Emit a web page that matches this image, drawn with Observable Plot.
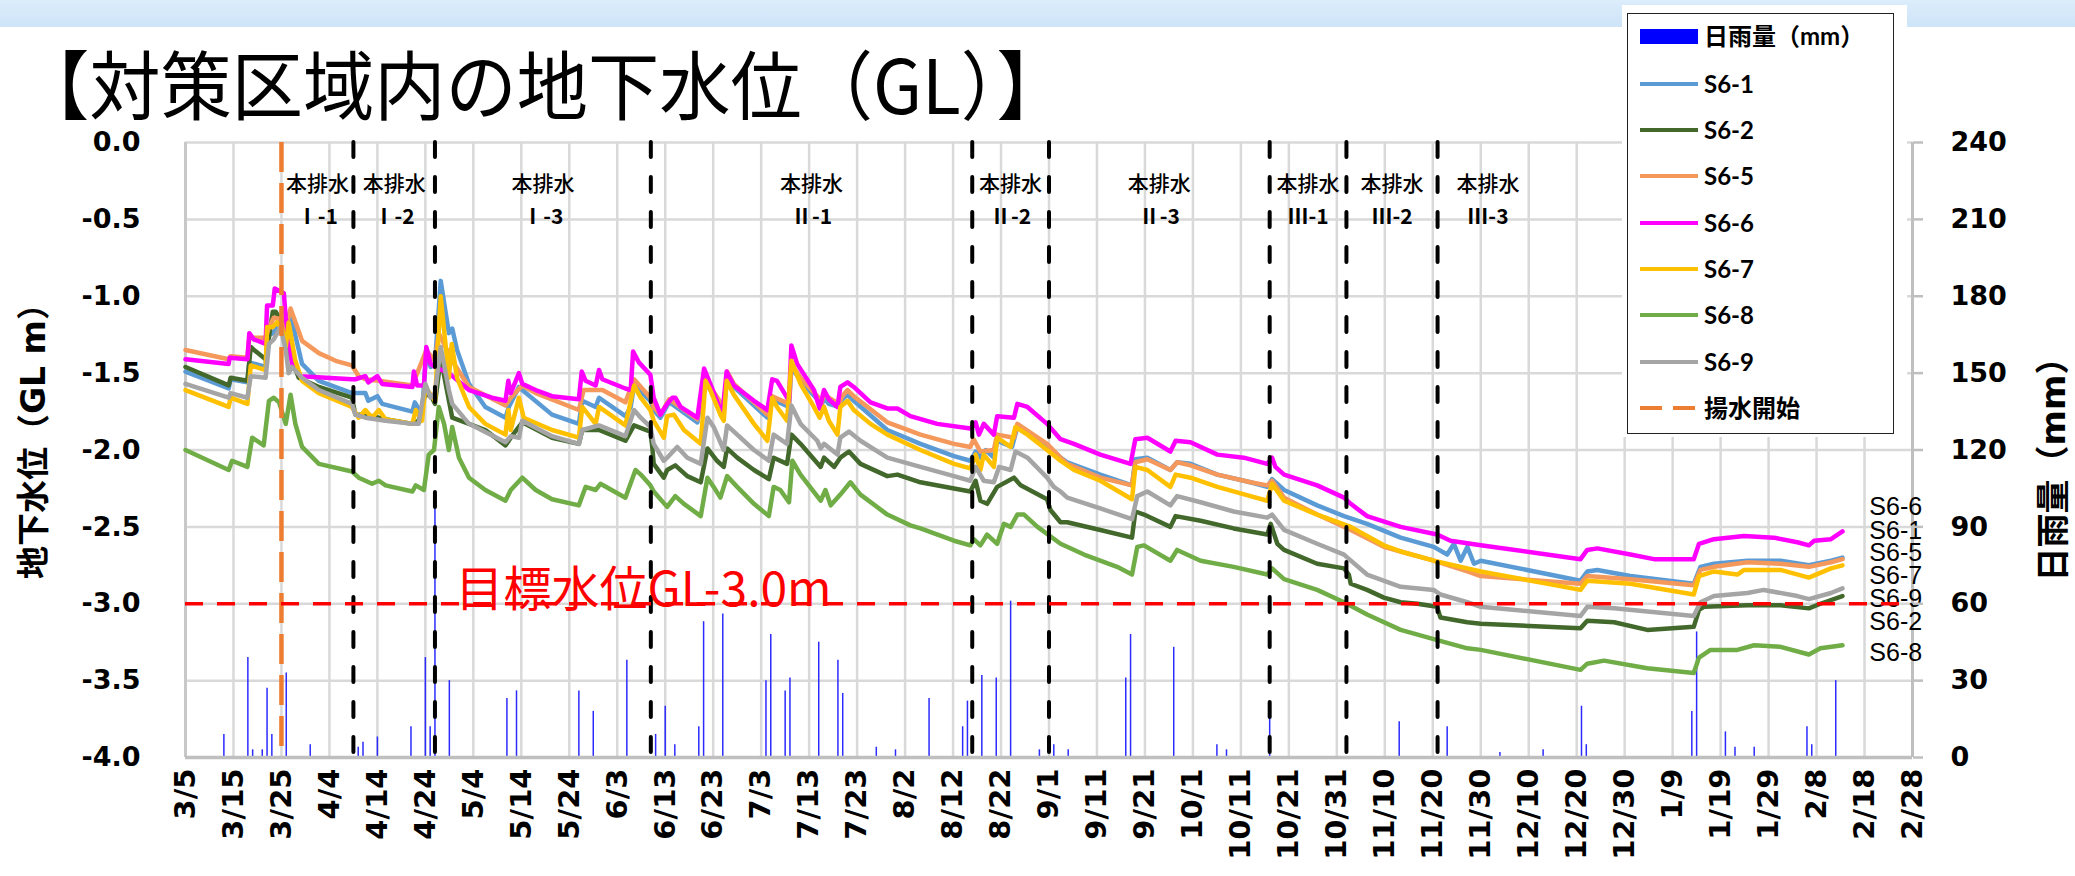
<!DOCTYPE html>
<html><head><meta charset="utf-8">
<script src="https://cdn.jsdelivr.net/npm/d3@7"></script>
<script src="https://cdn.jsdelivr.net/npm/@observablehq/plot@0.6"></script>
<style>
html,body{margin:0;padding:0;background:#fff;overflow:hidden;}
#wrap{position:relative;width:2075px;height:876px;overflow:hidden;background:#fff;}
#band{position:absolute;left:0;top:0;width:2075px;height:27px;background:linear-gradient(#dcedfb,#cde4f8);}
#chart{position:absolute;left:0;top:0;}
#title{position:absolute;left:18px;top:44px;font-family:"Noto Sans CJK JP";font-size:75px;font-weight:400;line-height:1;white-space:nowrap;transform:scaleX(0.95);transform-origin:0 0;}
.axlab{position:absolute;white-space:nowrap;font-family:"DejaVu Sans","Noto Sans CJK JP";font-weight:700;line-height:1;transform:translate(-50%,-50%) rotate(-90deg);}
#legendBack{position:absolute;left:1622px;top:5px;width:285px;height:432px;background:#fff;}
#legend{position:absolute;left:1627px;top:13px;width:267px;height:421px;border:1.5px solid #222;background:#fff;box-sizing:border-box;}
.row{position:absolute;left:0;height:30px;width:100%;}
.row svg{position:absolute;left:11px;top:0;}
.row span{position:absolute;left:76px;top:0;line-height:30px;font-family:Lato,"Noto Sans CJK JP";font-weight:700;font-size:24px;white-space:nowrap;}
</style>
</head><body>
<div id="wrap">
  <div id="band"></div>
  <div id="chart"></div>
  <div id="title">【対策区域内の地下水位（GL）】</div>
  <div class="axlab" id="ylabL" style="left:33px;top:433px;font-size:33px;">地下水位（GL m）</div>
  <div class="axlab" id="ylabR" style="left:2053px;top:461px;font-size:34px;">日雨量（mm）</div>
  <div id="legendBack"></div>
  <div id="legend"></div>
</div>
<script>
// ---- x tick labels (every 10 days from 3/5) ----
const dateLabels = ["3/5","3/15","3/25","4/4","4/14","4/24","5/4","5/14","5/24","6/3","6/13","6/23","7/3","7/13","7/23","8/2","8/12","8/22","9/1","9/11","9/21","10/1","10/11","10/21","10/31","11/10","11/20","11/30","12/10","12/20","12/30","1/9","1/19","1/29","2/8","2/18","2/28"];
const yTicks = [-4,-3.5,-3,-2.5,-2,-1.5,-1,-0.5,0];
const rainTicks = [0,30,60,90,120,150,180,210,240];

// ---- groundwater level series: [day since 3/5, GL m] ----
const s6_1 = [[0,-1.49],[9,-1.60],[9.4,-1.54],[12.9,-1.56],[13.3,-1.43],[16.7,-1.46],[17,-1.26],[18.2,-1.24],[21.8,-1.11],[24.3,-1.44],[27.8,-1.55],[34.7,-1.63],[37.5,-1.63],[38.1,-1.68],[40,-1.65],[41,-1.70],[47.3,-1.75],[47.8,-1.69],[49.3,-1.77],[50.2,-1.35],[51.1,-1.46],[52,-1.44],[53.2,-0.90],[54.9,-1.24],[55.6,-1.21],[56.6,-1.35],[59.1,-1.57],[62.5,-1.72],[66.7,-1.79],[67.4,-1.72],[69.5,-1.59],[70.2,-1.61],[76.4,-1.77],[82,-1.83],[82.7,-1.68],[85.5,-1.72],[86.2,-1.66],[91.7,-1.78],
[92.8,-1.72],[93.5,-1.58],[96.9,-1.68],[97.6,-1.74],[99,-1.79],[100.8,-1.69],[101.8,-1.71],[106.7,-1.82],[108.1,-1.55],[112.2,-1.74],[112.9,-1.52],[114.3,-1.59],[121.3,-1.79],[122.3,-1.67],[125.8,-1.72],[126.3,-1.46],[128.2,-1.55],[132,-1.68],[132.4,-1.73],[133.1,-1.66],[134.1,-1.70],[136.2,-1.72],[136.9,-1.67],[138,-1.64],[139.3,-1.68],[146.3,-1.87],[153.2,-1.96],[160.2,-2.04],[163.6,-2.07],[164.7,-2.01],[165.7,-2.05],[166.8,-2.00],[168.5,-2.05],[169.2,-1.94],[172.3,-1.98],[173.4,-1.85],[179.6,-1.97],[182.4,-2.05],
[183.8,-2.08],[190.7,-2.16],[197.3,-2.23],[198,-2.06],[200.5,-2.05],[205.3,-2.13],[206.7,-2.08],[209.5,-2.09],[215.1,-2.16],[222,-2.21],[225.5,-2.24],[226.5,-2.19],[229,-2.26],[235.9,-2.36],[241.5,-2.43],[246.3,-2.48],[253.3,-2.57],[260.2,-2.63],[263,-2.68],[264.4,-2.61],[265.8,-2.72],[267.2,-2.63],[268.6,-2.74],[270,-2.72],[290.8,-2.85],[292.2,-2.79],[294.3,-2.78],[301.2,-2.82],[314.4,-2.87],[315.8,-2.76],[318.6,-2.74],[325.6,-2.72],[332.5,-2.72],[338.4,-2.75],[343,-2.72],[345.4,-2.70]];

const s6_2 = [[0,-1.46],[9,-1.58],[9.4,-1.53],[12.9,-1.55],[13.6,-1.33],[14.3,-1.35],[16.7,-1.41],[18.2,-1.10],[18.8,-1.10],[20.2,-1.18],[20.9,-1.31],[23.6,-1.53],[27.8,-1.59],[34.7,-1.66],[35.4,-1.77],[37.5,-1.77],[41.7,-1.80],[47.3,-1.83],[48.6,-1.81],[50,-1.63],[51.4,-1.66],[52,-1.70],[53.2,-1.40],[55.6,-1.79],[62.5,-1.87],[66.7,-1.97],[67.8,-1.92],[70.2,-1.82],[76.4,-1.92],[82,-1.96],[82.7,-1.87],[86.2,-1.87],[91.7,-1.94],
[93.5,-1.84],[96.9,-1.88],[97.3,-1.98],[97.6,-2.09],[99.7,-2.18],[100.4,-2.13],[102.1,-2.10],[104.6,-2.17],[107.4,-2.21],[108.8,-1.99],[110.8,-2.07],[112.2,-2.11],[112.9,-1.99],[115,-2.05],[118.5,-2.13],[121.6,-2.19],[122.6,-2.05],[125.4,-2.09],[126.3,-1.90],[128.2,-1.96],[132.4,-2.11],[133.1,-2.05],[135.2,-2.11],[136.5,-2.05],[138.3,-2.01],[140.7,-2.09],[146.3,-2.17],[148.4,-2.16],[153.2,-2.21],[160.2,-2.25],[163.6,-2.27],[164.7,-2.20],[165.7,-2.33],[167.1,-2.35],[169.2,-2.24],[172.7,-2.18],[174.1,-2.23],[179.6,-2.32],[180.3,-2.39],[182.4,-2.47],
[183.8,-2.47],[190.7,-2.52],[197.3,-2.57],[198,-2.40],[199.8,-2.42],[205.3,-2.50],[206.4,-2.43],[211.6,-2.46],[218.5,-2.51],[225.5,-2.55],[226.2,-2.48],[227.6,-2.61],[229,-2.65],[235.9,-2.74],[241.5,-2.77],[242.5,-2.81],[242.9,-2.87],[246.3,-2.91],[249.8,-2.96],[253.3,-2.99],[256.8,-3.00],[260.9,-3.02],[261.6,-3.09],[267.2,-3.12],[270,-3.13],[290.8,-3.16],[292.2,-3.11],[297.8,-3.12],[304.7,-3.17],[314.4,-3.15],[315.5,-3.04],[316.5,-3.02],[325.6,-3.01],[332.5,-3.01],[338.4,-3.03],[340.8,-3.00],[345.4,-2.95]];

const s6_5 = [[0,-1.35],[9,-1.41],[9.4,-1.39],[12.9,-1.40],[13.3,-1.27],[16.7,-1.27],[17.4,-1.20],[18.4,-1.14],[20.2,-1.15],[20.9,-1.21],[21.9,-1.08],[24.3,-1.29],[27.8,-1.37],[31.3,-1.42],[34.7,-1.45],[36.1,-1.52],[37.5,-1.54],[40.3,-1.55],[47.3,-1.58],[50.2,-1.35],[52,-1.42],[52.8,-1.24],[55.6,-1.42],[59.1,-1.59],[66.7,-1.71],[67.8,-1.66],[70.2,-1.58],[73,-1.63],[82,-1.74],[83,-1.61],[86.9,-1.61],[91.7,-1.69],
[93.5,-1.54],[96.9,-1.66],[97.6,-1.72],[99,-1.77],[100.8,-1.67],[106.7,-1.80],[108.1,-1.53],[112.2,-1.72],[112.9,-1.49],[114.3,-1.57],[121.3,-1.77],[122.3,-1.65],[125.8,-1.70],[126.3,-1.44],[128.2,-1.53],[132,-1.66],[132.4,-1.71],[133.1,-1.64],[136.2,-1.70],[136.9,-1.65],[138,-1.61],[139.3,-1.65],[146.3,-1.82],[153.2,-1.90],[160.2,-1.96],[163.6,-1.98],[164.3,-1.93],[165.7,-2.01],[168.5,-2.00],[169.2,-1.90],[172.7,-1.92],[173.4,-1.83],[179.6,-1.96],[182.4,-2.05],
[183.8,-2.09],[190.7,-2.18],[197.3,-2.23],[198,-2.08],[200.5,-2.06],[205.3,-2.13],[206.7,-2.08],[209.5,-2.10],[215.1,-2.16],[222,-2.21],[225.5,-2.23],[226.5,-2.20],[229,-2.31],[235.9,-2.42],[242.9,-2.52],[249.8,-2.63],[253.3,-2.66],[260.2,-2.72],[267.2,-2.79],[270,-2.82],[290.8,-2.87],[292.2,-2.82],[301.2,-2.84],[314.4,-2.88],[315.8,-2.78],[318.6,-2.76],[325.6,-2.73],[332.5,-2.74],[338.4,-2.76],[343,-2.73],[345.4,-2.71]];

const s6_6 = [[0,-1.41],[9,-1.44],[9.2,-1.40],[12.9,-1.41],[13.3,-1.24],[14.2,-1.28],[16.7,-1.31],[17,-1.06],[18.2,-1.06],[18.6,-0.95],[20.5,-0.98],[20.9,-1.14],[22.2,-1.44],[24,-1.52],[34.7,-1.54],[35.4,-1.54],[37.5,-1.52],[38.1,-1.56],[40,-1.52],[41,-1.57],[47.3,-1.59],[47.6,-1.49],[48.3,-1.58],[49.7,-1.58],[50.2,-1.33],[51.1,-1.44],[52,-1.46],[54.9,-1.50],[59.1,-1.61],[63.9,-1.66],[66.7,-1.68],[67.3,-1.55],[67.8,-1.63],[69.5,-1.50],[70.2,-1.57],[73,-1.61],[76.4,-1.65],[82,-1.67],[82.6,-1.49],[83.4,-1.55],[85.5,-1.58],[86.2,-1.48],[86.9,-1.54],[91.7,-1.60],
[92.8,-1.61],[93.3,-1.36],[94.5,-1.43],[96.9,-1.51],[97.6,-1.66],[99,-1.77],[100.4,-1.70],[101.5,-1.66],[102.1,-1.66],[103.2,-1.72],[106.7,-1.79],[108.1,-1.47],[109.4,-1.57],[111.9,-1.77],[112.8,-1.49],[114.3,-1.58],[118.5,-1.68],[121.3,-1.74],[122.3,-1.54],[123.3,-1.55],[125.8,-1.68],[126.3,-1.32],[127.5,-1.44],[131,-1.61],[132.2,-1.73],[133.1,-1.61],[134.1,-1.67],[135.9,-1.72],[136.5,-1.59],[138,-1.56],[139.3,-1.59],[142.8,-1.69],[146.3,-1.73],[148.4,-1.73],[151.1,-1.78],[156.7,-1.83],[163.6,-1.86],[164.7,-1.82],[165.4,-1.90],[166.4,-1.83],[168.5,-1.90],[169.2,-1.78],[172.7,-1.79],[173.4,-1.70],[175.5,-1.72],[179.6,-1.83],[182.4,-1.93],
[185.2,-1.96],[190.7,-2.03],[197,-2.09],[198,-1.93],[200.5,-1.92],[205.3,-2.01],[206.4,-1.94],[209.5,-1.95],[215.1,-2.03],[220.6,-2.05],[225.5,-2.09],[226.5,-2.05],[227.2,-2.11],[229,-2.16],[235.9,-2.23],[241.5,-2.31],[242.9,-2.35],[246.3,-2.43],[253.3,-2.50],[260.9,-2.55],[263.7,-2.59],[270,-2.62],[290.8,-2.71],[292.2,-2.65],[294.3,-2.64],[301.2,-2.68],[306.1,-2.71],[314.4,-2.71],[315.5,-2.61],[318.6,-2.58],[324.9,-2.56],[331.1,-2.57],[336,-2.60],[338.4,-2.62],[339.5,-2.59],[343,-2.58],[345.4,-2.53]];

const s6_7 = [[0,-1.61],[9,-1.72],[9.4,-1.66],[12.9,-1.70],[13.6,-1.45],[16.7,-1.48],[17,-1.20],[18.2,-1.20],[19.1,-1.17],[20.2,-1.22],[20.9,-1.33],[21.5,-1.17],[22.9,-1.42],[24.3,-1.55],[27.8,-1.63],[34.7,-1.72],[36.1,-1.79],[37.5,-1.74],[38.9,-1.79],[40.3,-1.74],[41.7,-1.80],[47.3,-1.83],[48,-1.74],[49.3,-1.81],[50,-1.59],[52,-1.68],[53.2,-1.00],[54.9,-1.53],[55.5,-1.31],[56.6,-1.53],[59.1,-1.72],[62.5,-1.83],[66.7,-1.90],[67.3,-1.74],[67.8,-1.87],[69.5,-1.66],[70.5,-1.79],[76.4,-1.87],[82,-1.92],[82.7,-1.72],[85.5,-1.83],[86.2,-1.72],[91.7,-1.84],
[93.5,-1.58],[94.9,-1.66],[96.9,-1.74],[97.6,-1.81],[99.7,-1.92],[100.4,-1.78],[101.8,-1.77],[103.9,-1.87],[107.4,-1.96],[108.4,-1.55],[109.4,-1.61],[111.5,-1.77],[112.2,-1.81],[112.8,-1.55],[114.3,-1.64],[118.5,-1.83],[121.3,-1.94],[122.3,-1.66],[123.3,-1.72],[125.4,-1.81],[126.3,-1.42],[128.2,-1.57],[131,-1.72],[132.2,-1.79],[133.1,-1.72],[134.1,-1.81],[135.9,-1.90],[136.5,-1.72],[138,-1.68],[139.3,-1.74],[142.8,-1.83],[146.3,-1.90],[153.2,-2.00],[160.2,-2.09],[163.6,-2.12],[164.7,-2.03],[165.7,-2.13],[166.4,-2.03],[168.5,-2.11],[169.2,-1.92],[172,-1.98],[173,-1.85],[175.5,-1.90],[179.6,-2.00],[182.4,-2.07],
[185.2,-2.13],[190.7,-2.20],[197.3,-2.32],[198,-2.11],[200.5,-2.13],[205.3,-2.24],[206.4,-2.16],[209.5,-2.18],[215.1,-2.24],[222,-2.30],[225.5,-2.33],[226.5,-2.22],[229,-2.33],[235.9,-2.42],[242.9,-2.50],[249.8,-2.62],[253.3,-2.66],[260.2,-2.72],[267.2,-2.77],[270,-2.79],[290.8,-2.91],[292.2,-2.85],[301.2,-2.87],[314.4,-2.94],[315.5,-2.82],[318.6,-2.79],[323.5,-2.81],[324.9,-2.78],[332.5,-2.78],[338.4,-2.83],[343,-2.77],[345.4,-2.75]];

const s6_8 = [[0,-2.00],[9,-2.13],[9.7,-2.07],[12.9,-2.11],[13.9,-1.92],[16.3,-1.97],[17.4,-1.68],[18.4,-1.66],[19.5,-1.69],[20.9,-1.83],[21.9,-1.64],[22.9,-1.83],[24.3,-1.98],[27.8,-2.09],[34.7,-2.14],[36.1,-2.18],[38.9,-2.22],[40.3,-2.20],[41.7,-2.23],[47.3,-2.27],[48,-2.23],[49.7,-2.26],[50.7,-2.03],[51.8,-2.00],[52.8,-1.72],[53.9,-1.83],[54.9,-2.00],[55.6,-1.85],[57,-2.05],[59.1,-2.18],[62.5,-2.26],[66.7,-2.33],[67.8,-2.26],[70.2,-2.18],[73,-2.26],[76.4,-2.32],[82,-2.36],[83.4,-2.24],[85.5,-2.26],[86.5,-2.22],[91.7,-2.31],
[93.8,-2.13],[94.9,-2.16],[96.9,-2.23],[97.6,-2.27],[100.4,-2.37],[102.1,-2.30],[103.9,-2.35],[107.4,-2.43],[108.8,-2.18],[110.1,-2.24],[111.5,-2.31],[112.9,-2.17],[115,-2.24],[118.5,-2.35],[121.6,-2.43],[122.6,-2.24],[124,-2.26],[125.8,-2.34],[126.5,-2.07],[128.2,-2.16],[132.4,-2.33],[133.4,-2.26],[134.5,-2.36],[136.5,-2.29],[138.6,-2.21],[140.7,-2.29],[146.3,-2.42],[151.1,-2.49],[153.2,-2.51],[160.2,-2.59],[163.6,-2.62],[164.3,-2.58],[165.7,-2.62],[167.1,-2.55],[169.2,-2.61],[170.6,-2.48],[172,-2.50],[173.4,-2.42],[174.8,-2.42],[177.6,-2.50],[182.4,-2.61],
[187.3,-2.68],[194.2,-2.76],[197.3,-2.81],[198.4,-2.63],[199.8,-2.62],[205.3,-2.72],[206.7,-2.65],[211.6,-2.72],[218.5,-2.76],[225.5,-2.81],[226.5,-2.77],[229,-2.84],[235.9,-2.91],[241.5,-2.99],[246.3,-3.07],[253.3,-3.17],[260.2,-3.23],[267.2,-3.29],[270,-3.30],[290.8,-3.43],[292.2,-3.39],[295.7,-3.37],[304.7,-3.42],[314.4,-3.45],[315.5,-3.35],[317.9,-3.30],[323.5,-3.30],[327,-3.27],[332.5,-3.28],[338.4,-3.33],[340.8,-3.29],[345.4,-3.27]];

const s6_9 = [[0,-1.57],[9,-1.66],[9.4,-1.63],[12.9,-1.66],[13.6,-1.52],[16.7,-1.53],[17.4,-1.31],[18.4,-1.28],[19.8,-1.20],[20.9,-1.35],[21.5,-1.50],[22.2,-1.46],[24.3,-1.53],[27.8,-1.61],[34.7,-1.70],[35.4,-1.77],[37.5,-1.79],[41.7,-1.81],[47.3,-1.83],[48.6,-1.83],[50,-1.57],[51.1,-1.66],[52,-1.63],[53.2,-1.33],[54.9,-1.61],[55.6,-1.70],[59.1,-1.83],[66.7,-1.95],[67.8,-1.91],[69.5,-1.92],[70.2,-1.81],[76.4,-1.91],[82,-1.96],[82.7,-1.87],[86.2,-1.84],[91.7,-1.91],
[93.5,-1.74],[94.9,-1.79],[96.9,-1.85],[97.6,-1.96],[99.7,-2.07],[100.4,-2.05],[102.5,-1.98],[104.6,-2.05],[107.4,-2.09],[108.8,-1.79],[110.1,-1.85],[112.2,-2.00],[112.9,-1.84],[115,-1.90],[118.5,-2.00],[121.6,-2.07],[122.6,-1.90],[125.4,-1.96],[126.3,-1.71],[128.2,-1.83],[131.7,-1.94],[132.4,-1.99],[133.1,-1.96],[135.9,-2.03],[136.5,-1.92],[138.3,-1.88],[140.7,-1.94],[146.3,-2.05],[153.2,-2.11],[160.2,-2.17],[163.6,-2.20],[164.7,-2.11],[166.4,-2.20],[168.5,-2.21],[169.6,-2.11],[172,-2.13],[173,-2.01],[175.5,-2.05],[179.6,-2.18],[181,-2.24],[182.4,-2.27],
[183.8,-2.31],[190.7,-2.38],[197.3,-2.45],[198.4,-2.30],[200.5,-2.27],[205.3,-2.36],[206.7,-2.30],[211.6,-2.34],[218.5,-2.40],[225.5,-2.44],[226.5,-2.42],[229,-2.52],[235.9,-2.61],[241.5,-2.68],[242.2,-2.70],[246.3,-2.81],[253.3,-2.89],[260.2,-2.91],[261.6,-2.94],[267.2,-2.99],[270,-3.02],[290.8,-3.08],[292.2,-3.02],[297.8,-3.03],[314.4,-3.08],[315.8,-2.99],[318.6,-2.95],[325.6,-2.93],[329,-2.91],[336,-2.95],[338.4,-2.97],[343,-2.93],[345.4,-2.90]];

// ---- daily rainfall (mm) ----
const rainDays = [8,13,14,16,17,18,21,26,36,37,40,47,50,51,52,55,67,69,82,85,92,98,100,102,107,108,112,121,122,125,126,132,136,137,144,148,155,162,163,166,169,172,178,181,184,196,197,206,215,217,226,253,263,274,283,291,292,314,315,321,323,327,338,339,344];
const rainMm   = [9,39,3,3,27,9,33,5,4,6,8,12,39,12,101,30,23,26,26,18,38,9,20,5,12,53,56,30,48,26,31,45,38,25,4,3,23,12,22,32,31,61,3,5,3,31,48,43,5,3,20,14,12,2,3,20,5,18,49,10,4,4,12,5,30];

// ---- annotations ----
const pumpStartDay = 20;
const periodBounds = [20,35,52,97,164,180,226,242,261,282];
const periodNames = ["Ⅰ-1","Ⅰ-2","Ⅰ-3","Ⅱ-1","Ⅱ-2","Ⅱ-3","Ⅲ-1","Ⅲ-2","Ⅲ-3"];
const targetLevel = -3.0;
const targetText = "目標水位GL-3.0m";
const targetTextDay = 56.3;
const endLabels = ["S6-6","S6-1","S6-5","S6-7","S6-9","S6-2","S6-8"];
const endLabelLevels = [-2.37,-2.53,-2.67,-2.82,-2.97,-3.12,-3.32];
const endLabelDay = 351;

const seriesNames = ["S6-1","S6-2","S6-5","S6-6","S6-7","S6-8","S6-9"];
const seriesData = [s6_1,s6_2,s6_5,s6_6,s6_7,s6_8,s6_9];
const seriesColors = ["#5b9bd5","#43682b","#f4985c","#ff00ff","#ffc000","#70ad47","#a5a5a5"];

// ---- derived tables ----
const xTicks = dateLabels.map((d,i) => i*10);
const rain = rainDays.map((d,i) => ({day:d, mm:rainMm[i]}));
const dividers = periodBounds.slice(1, -1);
const periods = periodNames.map((n,i) => ({name:n, mid:(periodBounds[i]+periodBounds[i+1])/2}));
const ends = endLabels.map((n,i) => ({name:n, y:endLabelLevels[i], x:endLabelDay}));
const rainToGL = mm => -4 + mm * 4 / 240;

const gridStyle = {stroke:"#d9d9d9", strokeWidth:2.5};
const marks = [
  Plot.ruleX(xTicks, gridStyle),
  Plot.ruleY(yTicks, gridStyle),
  Plot.ruleX(rain, {x:"day", y1:-4, y2:d => rainToGL(d.mm), stroke:"#2b2bff", strokeWidth:1.5}),
  Plot.ruleX([0], {stroke:"#c8c8c8", strokeWidth:3}),
  Plot.ruleX([360], {stroke:"#bfbfbf", strokeWidth:3}),
  Plot.ruleY([-4], {stroke:"#bfbfbf", strokeWidth:3.5}),
  ...seriesData.map((s,i) => Plot.line(s, {x:d => d[0], y:d => d[1], stroke:seriesColors[i], strokeWidth:4.5, strokeLinejoin:"round", curve:"linear"})),
  Plot.ruleX(dividers, {stroke:"#000", strokeWidth:4, strokeDasharray:"15 20", strokeLinecap:"round"}),
  Plot.ruleX([pumpStartDay], {stroke:"#ed7d31", strokeWidth:4.5, strokeDasharray:"30 11"}),
  Plot.text(periods, {x:"mid", frameAnchor:"top", dy:34, text:() => "本排水", fontFamily:"Noto Sans CJK JP", fontWeight:500, fontSize:21, fill:"#000"}),
  Plot.text(periods, {x:"mid", frameAnchor:"top", dy:67, text:"name", fontFamily:"Noto Sans CJK JP", fontWeight:700, fontSize:21, fill:"#000"}),
  Plot.text(ends, {x:"x", y:"y", text:"name", textAnchor:"start", fontFamily:"Liberation Sans", fontSize:25, fill:"#000"}),
  Plot.text([targetText], {x:targetTextDay, y:targetLevel, text:d => d, textAnchor:"start", dy:-13, fontFamily:"Noto Sans CJK JP", fontSize:48, fill:"#ff0000"}),
  Plot.ruleY([targetLevel], {stroke:"#ff0000", strokeWidth:3.5, strokeDasharray:"18 14"}),
  Plot.axisX(xTicks, {tickFormat:d => dateLabels[Math.round(d/10)], tickRotate:-90, tickSize:0, tickPadding:11, fontSize:29, fontWeight:"bold", fontFamily:"DejaVu Sans", label:null}),
  Plot.axisY(yTicks, {anchor:"left", tickSize:0, tickPadding:45, tickFormat:d => d.toFixed(1), fontSize:27, fontWeight:"bold", fontFamily:"DejaVu Sans", label:null}),
  Plot.axisY(yTicks, {anchor:"right", tickSize:10, tickPadding:28, stroke:"#bfbfbf", strokeWidth:2.5, tickFormat:d => String(rainTicks[yTicks.indexOf(d)]), fontSize:27, fontWeight:"bold", fontFamily:"DejaVu Sans", label:null})
];

const chart = Plot.plot({
  width:2075, height:876,
  marginTop:142, marginRight:163, marginBottom:119, marginLeft:185,
  x:{type:"linear", domain:[0,360]},
  y:{type:"linear", domain:[-4,0]},
  style:{background:"transparent", color:"#000", overflow:"visible"},
  marks
});
document.getElementById("chart").appendChild(chart);

// ---- legend ----
const legend = document.getElementById("legend");
const rowTops = [22,70,116,162,209,255,301,348,394];
function addRow(i, swatch, label){
  const row = document.createElement("div");
  row.className = "row";
  row.style.top = (rowTops[i] - 15) + "px";
  row.innerHTML = `<svg width="62" height="30">${swatch}</svg><span>${label}</span>`;
  legend.appendChild(row);
}
addRow(0, `<rect x="1" y="8" width="58" height="15" fill="#0000ff"/>`, "日雨量（mm）");
seriesNames.forEach((n,i) => addRow(i+1, `<line x1="1" x2="59" y1="15" y2="15" stroke="${seriesColors[i]}" stroke-width="4"/>`, n));
addRow(8, `<line x1="1" x2="59" y1="15" y2="15" stroke="#ed7d31" stroke-width="4" stroke-dasharray="22 11"/>`, "揚水開始");
</script>
</body></html>
